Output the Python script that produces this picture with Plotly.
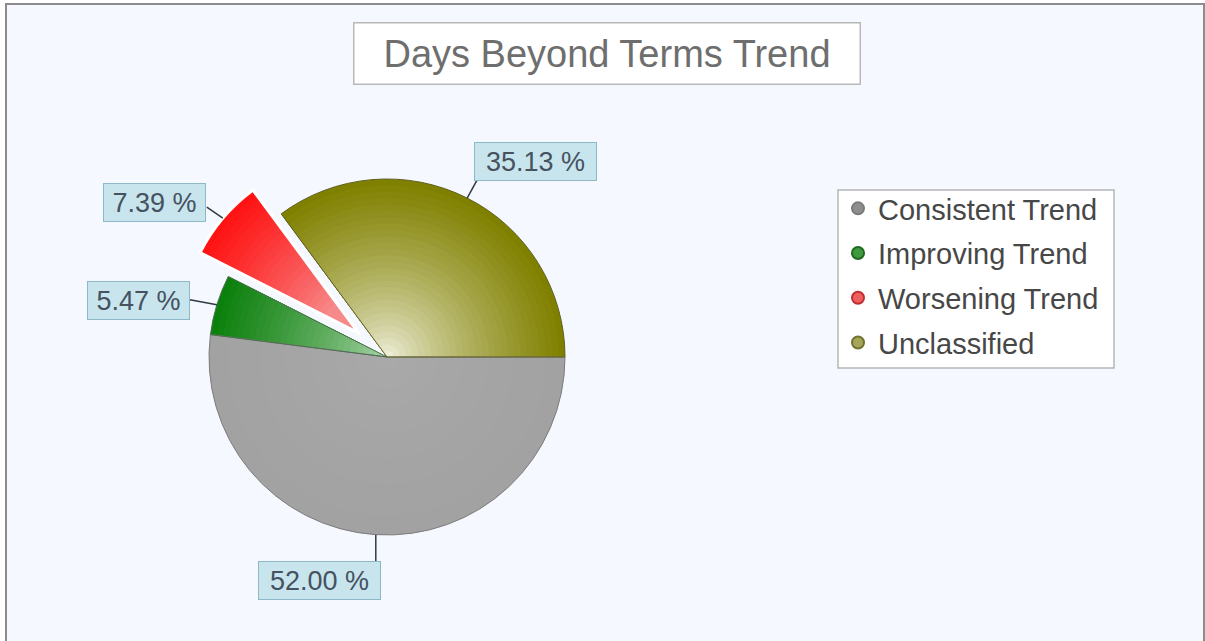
import math
import plotly.graph_objects as go

# ---- data ----
categories = ["Consistent Trend", "Improving Trend", "Worsening Trend", "Unclassified"]
values = [52.00, 5.47, 7.39, 35.13]
pulled = [False, False, True, False]

# ---- styling ----
W, H = 1205, 641
CX, CY, R = 387, 357, 178          # pie centre / radius in pixels
PULL_PX = 37                       # pull-out distance of the exploded slice
FONT = "Liberation Sans, Arial, sans-serif"

rim_colors = [(162, 162, 162), (12, 128, 12), (255, 18, 18), (128, 128, 0)]
center_colors = [(170, 170, 170), (185, 220, 185), (242, 200, 200), (248, 248, 238)]
outline_colors = ["#7c7c7c", "#4f6f4f", "#ffffff", "#5f5f20"]
outline_widths = [1, 1, 3, 1]
legend_fill = ["#8e8e8e", "#3f9a3f", "#ee6060", "#a6a65a"]
legend_line = ["#7a7a7a", "#1e6a1e", "#c03030", "#72722e"]

# label-box / leader-line offsets relative to the rim point of each slice
line_off = [(0, 27), (-27, -5), (-16, -11), (11, -20)]
box_off = [(-56, 46), (-78, -4), (-68, -16), (68, -37)]


def mix(c0, c1, t):
    f = t ** 0.7
    return "rgb({},{},{})".format(*[int(round(a + (b - a) * f)) for a, b in zip(c0, c1)])


def domain_for(half):
    return dict(x=[(CX - half) / W, (CX + half) / W],
                y=[1 - (CY + half) / H, 1 - (CY - half) / H])


fig = go.Figure()

# radial-gradient imitation: concentric pies from outside to inside
N = 28
for k in range(N):
    r = R * (N - k) / N
    t = r / R
    cols, pulls = [], []
    maxpull = 0.0
    for i in range(len(values)):
        if pulled[i]:
            if r >= PULL_PX:
                p = PULL_PX / r
                cols.append(mix(center_colors[i], rim_colors[i], t))
                pulls.append(p)
                maxpull = max(maxpull, p)
            else:
                cols.append("rgba(0,0,0,0)")
                pulls.append(0)
        else:
            cols.append(mix(center_colors[i], rim_colors[i], t))
            pulls.append(0)
    half = r * (1 + maxpull)
    fig.add_trace(go.Pie(
        labels=categories, values=values, sort=False, direction="clockwise",
        rotation=90, pull=pulls, textinfo="none", hoverinfo="skip",
        showlegend=False, domain=domain_for(half),
        marker=dict(colors=cols, line=dict(width=0)),
    ))

# outline layer
p_top = PULL_PX / R
fig.add_trace(go.Pie(
    labels=categories, values=values, sort=False, direction="clockwise",
    rotation=90, pull=[p_top if p else 0 for p in pulled], textinfo="none",
    hoverinfo="skip", showlegend=False, domain=domain_for(R * (1 + p_top)),
    marker=dict(colors=["rgba(0,0,0,0)"] * 4,
                line=dict(color=outline_colors, width=outline_widths)),
))

# legend entries with round markers
for i, name in enumerate(categories):
    fig.add_trace(go.Scatter(
        x=[None], y=[None], mode="markers", name=name, legendgroup=name,
        marker=dict(symbol="circle", size=14, color=legend_fill[i],
                    line=dict(color=legend_line[i], width=1.5)),
    ))

# labels with leader lines
total = sum(values)
cum = 0.0
shapes = [
    dict(type="rect", xref="x", yref="y", x0=6, y0=4, x1=1204, y1=660,
         fillcolor="#f5f8fe", line=dict(color="#8c8c8c", width=2), layer="below"),
    dict(type="rect", xref="x", yref="y", x0=838, y0=190, x1=1114, y1=368,
         fillcolor="white", line=dict(color="#b5b5b5", width=1.5), layer="below"),
]
annotations = [dict(text="Days Beyond Terms Trend", x=606.5, y=53, xref="x", yref="y",
                    showarrow=False, width=497, height=52, bgcolor="white",
                    bordercolor="#b8b8b8", borderwidth=1.5, borderpad=4,
                    font=dict(family=FONT, size=38, color="#6e6e6e"))]
for i, v in enumerate(values):
    mid = (cum + v / 2) / total * 360.0
    cum += v
    a = math.radians(mid)
    rr = R + (PULL_PX if pulled[i] else 0)
    hx, hy = CX + rr * math.cos(a), CY + rr * math.sin(a)
    lx, ly = hx + line_off[i][0], hy + line_off[i][1]
    shapes.append(dict(type="line", xref="x", yref="y", x0=hx, y0=hy, x1=lx, y1=ly,
                       line=dict(color="#2f3a44", width=1.5), layer="above"))
    txt = f"{v:.2f} %"
    annotations.append(dict(
        text=txt, x=hx + box_off[i][0], y=hy + box_off[i][1], xref="x", yref="y",
        showarrow=False, width=117 if len(txt) >= 7 else 97, height=33,
        bgcolor="#c8e5ee", bordercolor="#8db8c8", borderwidth=1, borderpad=2,
        font=dict(family=FONT, size=27, color="#46525f"),
    ))

fig.update_layout(
    width=W, height=H, margin=dict(l=0, r=0, t=0, b=0),
    paper_bgcolor="white", plot_bgcolor="rgba(0,0,0,0)",
    xaxis=dict(visible=False, range=[0, W], domain=[0, 1], fixedrange=True),
    yaxis=dict(visible=False, range=[H, 0], domain=[0, 1], fixedrange=True),
    shapes=shapes, annotations=annotations,
    showlegend=True,
    legend=dict(x=838 / W, y=1 - 183 / H, xanchor="left", yanchor="top",
                bgcolor="rgba(0,0,0,0)", borderwidth=0,
                font=dict(family=FONT, size=29, color="#474747"),
                tracegroupgap=4, itemsizing="constant"),
)

fig.write_html("out.html", config={"displayModeBar": False},
               post_script="document.body.style.margin='0';document.body.style.overflow='hidden';")
